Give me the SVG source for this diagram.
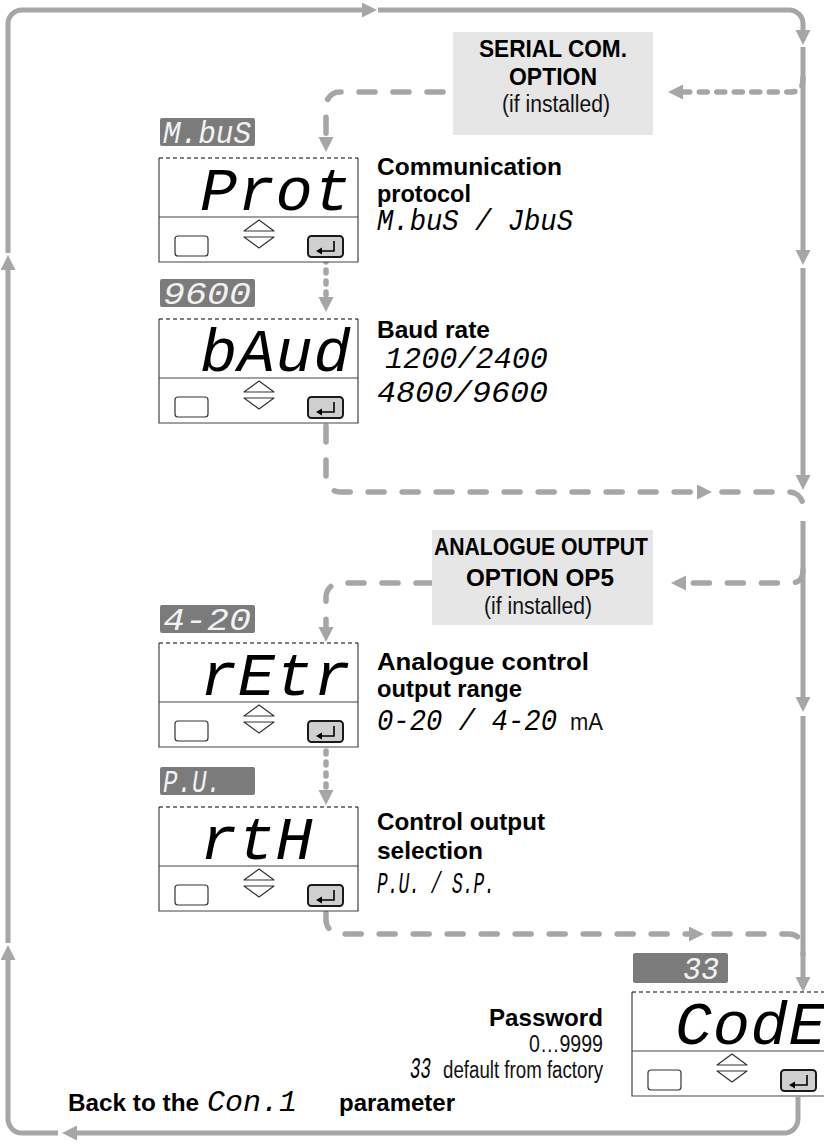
<svg xmlns="http://www.w3.org/2000/svg" width="824" height="1148" viewBox="0 0 824 1148">
<style>
.ln{fill:none;stroke:#a6a6a6;stroke-width:5}
.ds{fill:none;stroke:#a6a6a6;stroke-width:5.5;stroke-linecap:round;stroke-dasharray:16 18}
.dss{fill:none;stroke:#a6a6a6;stroke-width:5.5;stroke-linecap:round;stroke-dasharray:8 9.5}
.dt{fill:none;stroke:#a6a6a6;stroke-width:5.5;stroke-linecap:round;stroke-dasharray:3 8}
.seg{font-family:"Liberation Mono","DejaVu Sans Mono",monospace;font-style:italic}
.big{font-size:62px;letter-spacing:0.6px;fill:#000}
.lt{font-size:32px;fill:#f2f2f2}
.ds7{font-size:29px;fill:#000}
.b{font-family:"Liberation Sans",Arial,sans-serif;font-weight:bold;font-size:24.5px;fill:#000}
.b2{font-family:"Liberation Sans",Arial,sans-serif;font-weight:bold;font-size:24px;fill:#000}
.r{font-family:"Liberation Sans",Arial,sans-serif;font-size:23px;fill:#111}
.lbl{fill:#7b7b7b}
.opt{fill:#e6e6e6}
.frame{fill:none;stroke:#444;stroke-width:1.2}
.top{stroke:#000;stroke-width:1;stroke-dasharray:4 3}
.btn{fill:#fff;stroke:#333;stroke-width:1.2}
.ent{fill:#cfcfcf;stroke:#1a1a1a;stroke-width:2}
.tri{fill:#fff;stroke:#333;stroke-width:1.2;stroke-linejoin:round}
</style>
<defs>
<marker id="ah" markerUnits="userSpaceOnUse" markerWidth="16" markerHeight="16" refX="3" refY="7.5" orient="auto">
<path d="M0,0 L15,7.5 L0,15 Z" fill="#a6a6a6"/>
</marker>
<g id="panel">
<rect x="0" y="0" width="199" height="104" fill="#fff"/>
<path d="M0,0 V104 H199 V0" class="frame"/>
<line x1="0" y1="0" x2="199" y2="0" class="top"/>
<line x1="0" y1="59" x2="199" y2="59" stroke="#444" stroke-width="1.2"/>
<rect x="16" y="78" width="33" height="20" rx="3" class="btn"/>
<path d="M85,73 L100,62 L115,73 Z" class="tri"/>
<path d="M85,79 L100,90 L115,79 Z" class="tri"/>
<rect x="149" y="78" width="35" height="21" rx="3.5" class="ent"/>
<path d="M175,83 V93 H162" fill="none" stroke="#000" stroke-width="1.6"/>
<path d="M157,93 L163,89.5 L163,96.5 Z" fill="#000"/>
</g>
</defs>
<rect width="824" height="1148" fill="#fff"/>

<g id="connectors">
<path class="ln" marker-end="url(#ah)" d="M798,1097 V1119 A14,14 0 0 1 784,1133 H74"/>
<path class="ln" marker-end="url(#ah)" d="M58,1133 H22 A14,14 0 0 1 8,1119 V957"/>
<path class="ln" marker-end="url(#ah)" d="M8,943 V267"/>
<path class="ln" marker-end="url(#ah)" d="M8,253 V24 A14,14 0 0 1 22,10 H365"/>
<path class="ln" marker-end="url(#ah)" d="M378,10 H789 A14,14 0 0 1 803,24 V33"/>
<path class="ln" marker-end="url(#ah)" d="M803,47 V253"/>
<path class="ln" marker-end="url(#ah)" d="M803,268 V478"/>
<path class="ln" marker-end="url(#ah)" d="M803,521 V700"/>
<path class="ln" marker-end="url(#ah)" d="M803,716 V980"/>
<path class="dss" marker-end="url(#ah)" d="M803,78 C803,88 800,92 790,92 H680"/>
<path class="ds" marker-end="url(#ah)" d="M443,92 H340 A14,14 0 0 0 326,106 V140"/>
<path class="dt" marker-end="url(#ah)" d="M326,259 V300"/>
<path class="ds" marker-end="url(#ah)" d="M326,426 V478 A14,14 0 0 0 340,492 H700"/>
<path class="ds" d="M722,492 H789 A14,14 0 0 1 803,506 V512"/>
<path class="ds" marker-end="url(#ah)" d="M803,570 C803,579 800,583 790,583 H683"/>
<path class="ds" marker-end="url(#ah)" d="M432,583 H340 A14,14 0 0 0 326,597 V630"/>
<path class="dt" marker-end="url(#ah)" d="M326,751 V793"/>
<path class="ds" marker-end="url(#ah)" d="M326,913 V920 A14,14 0 0 0 340,934 H692"/>
<path class="ds" d="M714,934 H789 A14,14 0 0 1 803,948 V954"/>
</g>

<g id="serial-option">
<rect class="opt" x="453" y="32" width="200" height="103"/>
<text class="b" x="553" y="57" text-anchor="middle" textLength="148" lengthAdjust="spacingAndGlyphs">SERIAL COM.</text>
<text class="b" x="553" y="85" text-anchor="middle" textLength="88" lengthAdjust="spacingAndGlyphs">OPTION</text>
<text class="r" x="556" y="112" text-anchor="middle" textLength="108" lengthAdjust="spacingAndGlyphs">(if installed)</text>
</g>

<g id="node-prot">
<rect class="lbl" x="160" y="118" width="95" height="28" rx="2"/>
<text class="seg lt" x="163" y="143" textLength="88" lengthAdjust="spacingAndGlyphs">M.buS</text>
<use href="#panel" x="159" y="158"/>
<text class="seg big" x="200" y="210">Prot</text>
<text class="b2" x="377" y="175" textLength="185" lengthAdjust="spacingAndGlyphs">Communication</text>
<text class="b2" x="377" y="202" textLength="94" lengthAdjust="spacingAndGlyphs">protocol</text>
<text class="seg ds7" x="377" y="230" textLength="196" lengthAdjust="spacingAndGlyphs">M.buS / JbuS</text>
</g>

<g id="node-baud">
<rect class="lbl" x="160" y="279" width="95" height="28" rx="2"/>
<text class="seg lt" x="163" y="304" textLength="88" lengthAdjust="spacingAndGlyphs">9600</text>
<use href="#panel" x="159" y="319"/>
<text class="seg big" x="200" y="371">bAud</text>
<text class="b" x="377" y="338" textLength="113" lengthAdjust="spacingAndGlyphs">Baud rate</text>
<text class="seg ds7" x="385" y="368" textLength="163" lengthAdjust="spacingAndGlyphs">1200/2400</text>
<text class="seg ds7" x="377" y="402" textLength="171" lengthAdjust="spacingAndGlyphs">4800/9600</text>
</g>

<g id="analogue-option">
<rect class="opt" x="432" y="530" width="221" height="95"/>
<text class="b" x="541" y="555" text-anchor="middle" textLength="214" lengthAdjust="spacingAndGlyphs">ANALOGUE OUTPUT</text>
<text class="b" x="540" y="586" text-anchor="middle" textLength="148" lengthAdjust="spacingAndGlyphs">OPTION OP5</text>
<text class="r" x="538" y="614" text-anchor="middle" textLength="108" lengthAdjust="spacingAndGlyphs">(if installed)</text>
</g>

<g id="node-retr">
<rect class="lbl" x="160" y="605" width="95" height="28" rx="2"/>
<text class="seg lt" x="163" y="630" textLength="88" lengthAdjust="spacingAndGlyphs">4-20</text>
<use href="#panel" x="159" y="643"/>
<text class="seg big" x="200" y="695">rEtr</text>
<text class="b2" x="377" y="670" textLength="212" lengthAdjust="spacingAndGlyphs">Analogue control</text>
<text class="b2" x="377" y="697" textLength="145" lengthAdjust="spacingAndGlyphs">output range</text>
<text class="seg ds7" x="377" y="730" textLength="180" lengthAdjust="spacingAndGlyphs">0-20 / 4-20</text>
<text class="r" x="570" y="730" textLength="33" lengthAdjust="spacingAndGlyphs">mA</text>
</g>

<g id="node-rth">
<rect class="lbl" x="160" y="767" width="95" height="28" rx="2"/>
<text class="seg lt" x="163" y="792" textLength="58" lengthAdjust="spacingAndGlyphs">P.U.</text>
<use href="#panel" x="159" y="807"/>
<text class="seg big" x="200" y="859">rtH</text>
<text class="b" x="377" y="830" textLength="168" lengthAdjust="spacingAndGlyphs">Control output</text>
<text class="b" x="377" y="859" textLength="106" lengthAdjust="spacingAndGlyphs">selection</text>
<text class="seg ds7" x="377" y="893" textLength="118" lengthAdjust="spacingAndGlyphs">P.U. / S.P.</text>
</g>

<g id="node-code">
<rect class="lbl" x="633" y="953" width="95" height="30" rx="2"/>
<text class="seg lt" x="683" y="979" textLength="36" lengthAdjust="spacingAndGlyphs">33</text>
<use href="#panel" x="632" y="992"/>
<text class="seg big" x="675" y="1044">CodE</text>
<text class="b" x="603" y="1026" text-anchor="end" textLength="114" lengthAdjust="spacingAndGlyphs">Password</text>
<text class="r" x="603" y="1052" text-anchor="end" textLength="74" lengthAdjust="spacingAndGlyphs">0…9999</text>
<text class="r" x="603" y="1078" text-anchor="end" textLength="160" lengthAdjust="spacingAndGlyphs">default from factory</text>
<text class="seg ds7" x="410" y="1078" textLength="21" lengthAdjust="spacingAndGlyphs">33</text>
</g>

<g id="back-note">
<text class="b" x="68" y="1111" textLength="131" lengthAdjust="spacingAndGlyphs">Back to the</text>
<text class="seg ds7" x="207" y="1111" textLength="90" lengthAdjust="spacingAndGlyphs">Con.1</text>
<text class="b" x="339" y="1111" textLength="116" lengthAdjust="spacingAndGlyphs">parameter</text>
</g>
</svg>
